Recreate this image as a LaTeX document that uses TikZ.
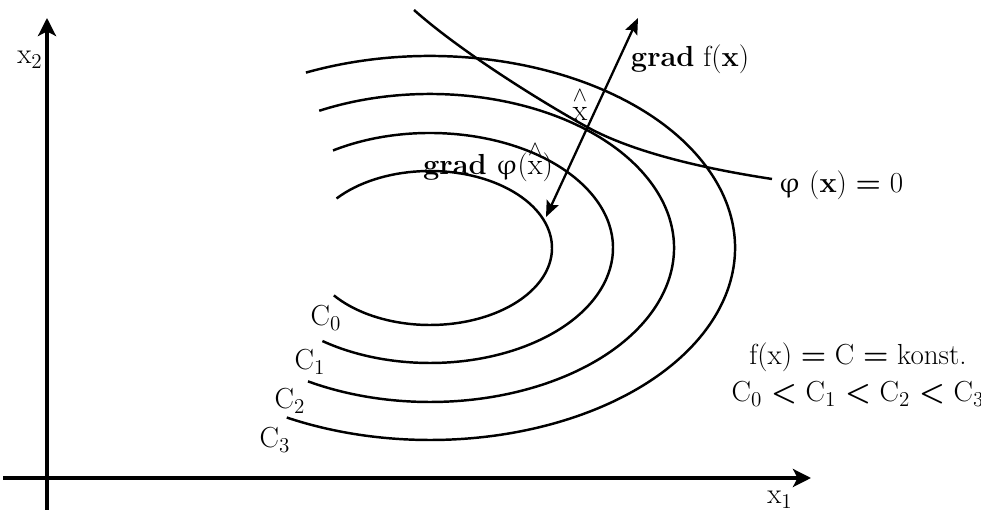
\documentclass[tikz,border=0pt]{standalone}
\usepackage{amsmath}
\usepackage{upgreek}
\usepackage{tikz}
\usetikzlibrary{arrows.meta, calc}
\newcommand{\phig}{$\upvarphi$}
\newcommand{\xhat}{$\overset{\wedge}{\mathrm{x}}$}

\begin{document}
\begin{tikzpicture}[
  x=0.02cm, y=0.02cm,
  font=\fontsize{16.5}{20}\selectfont,
  axis/.style={line width=2pt, -{Stealth[length=3.6mm, width=3.6mm, inset=0.9mm]}},
  lvl/.style={line width=1.4pt},
  grd/.style={line width=1.3pt,
              {Stealth[length=3.2mm, width=2.6mm, inset=0.6mm]}-{Stealth[length=3.2mm, width=2.6mm, inset=0.6mm]}},
  lbl/.style={inner sep=0pt}
]
\useasboundingbox (0,0) rectangle (981,513);

% ---- Axes ----
\coordinate (x1start) at (3,35);
\coordinate (x1end)   at (811,35);
\coordinate (x2start) at (47,3);
\coordinate (x2end)   at (47,495);
\draw[axis] (x1start) -- (x1end);
\draw[axis] (x2start) -- (x2end);
\node[lbl] (x1) at (780,13)  {x$_1$};
\node[lbl] (x2) at (30,453)  {x$_2$};

% ---- Level curves f(x) = C ----
\coordinate (ctr) at (430,265);
\draw[lvl] ($(ctr)+(140:122 and 77)$)  arc[start angle=140, end angle=-142, x radius=122, y radius=77];
\draw[lvl] ($(ctr)+(122:183 and 115)$) arc[start angle=122, end angle=-126, x radius=183, y radius=115];
\draw[lvl] ($(ctr)+(117:244 and 154)$) arc[start angle=117, end angle=-120, x radius=244, y radius=154];
\draw[lvl] ($(ctr)+(114:305 and 192)$) arc[start angle=114, end angle=-118, x radius=305, y radius=192];

\node[lbl] (c0) at (326,195) {C$_0$};
\node[lbl] (c1) at (310,151) {C$_1$};
\node[lbl] (c2) at (290,112) {C$_2$};
\node[lbl] (c3) at (275,73)  {C$_3$};

% ---- Constraint phi(x) = 0 ----
\node[lbl, anchor=base west] (phil) at (778,320) {\phig\ (\textbf{x}) \textbf{=} 0};
\coordinate (phis) at (414,503);
\coordinate (xhat) at (587,386);
\coordinate (phie) at (772,334);
\draw[lvl] (phis) .. controls (460,462) and (540,412) .. (xhat)
  .. controls (640,357) and (720,342) .. (phie);

% ---- Gradients in x-hat ----
\coordinate (gtipL) at (546,296);
\coordinate (gtipU) at (638,495);
\draw[grd] (gtipL) -- (gtipU);

\node[lbl, anchor=base] (xhl) at (580,392) {\xhat};
\node[lbl, anchor=base] (gradf)   at (690,446) {\textbf{grad} f(\textbf{x})};
\node[lbl, anchor=base] (gradphi) at (488,338) {\textbf{grad} \phig(\xhat)};

% ---- Note ----
\node[lbl, anchor=base] (note1) at (858,148) {f(x) \textbf{=} C \textbf{=} konst.};
\node[lbl, anchor=base] (note2) at (858,111) {C$_0$ \textbf{<} C$_1$ \textbf{<} C$_2$ \textbf{<} C$_3$};

\end{tikzpicture}
\end{document}
